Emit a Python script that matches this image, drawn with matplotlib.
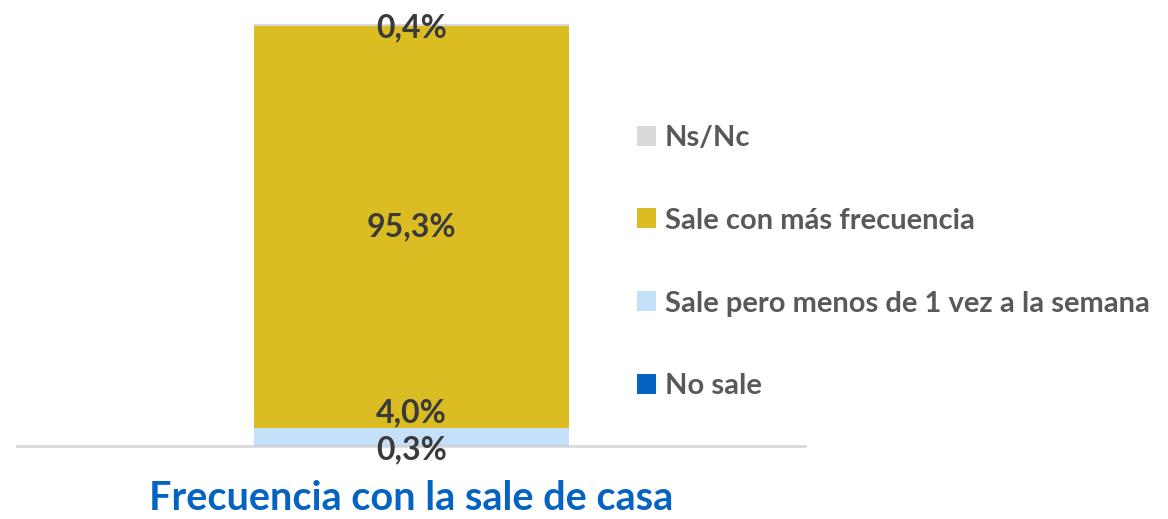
import matplotlib
matplotlib.use("Agg")
import matplotlib.pyplot as plt
from matplotlib.patches import Patch

categories = ["No sale", "Sale pero menos de 1 vez a la semana",
              "Sale con más frecuencia", "Ns/Nc"]
values = [0.3, 4.0, 95.3, 0.4]
colors = ["#0563C1", "#C5E0F9", "#DBBD23", "#D9D9D9"]
value_labels = ["0,3%", "4,0%", "95,3%", "0,4%"]
title = "Frecuencia con la sale de casa"

plt.rcParams["font.family"] = ["Lato", "DejaVu Sans"]

fig = plt.figure(figsize=(11.68, 5.19), dpi=100)
ax = fig.add_axes([0.0146, 0.1407, 0.675, 0.813])

bottom = 0.0
for val, col in zip(values, colors):
    ax.bar(0, val, width=0.4, bottom=bottom, color=col, edgecolor="none")
    bottom += val

ax.set_xlim(-0.5, 0.5)
ax.set_ylim(0, 100)
for s in ["top", "right", "left"]:
    ax.spines[s].set_visible(False)
ax.spines["bottom"].set_color("#D9D9D9")
ax.spines["bottom"].set_linewidth(2)
ax.set_xticks([])
ax.set_yticks([])

# data labels: offsets (points) keep thin segments readable
label_color = "#3A3A3A"
offsets = [-3, 17, 0, -2]
cum = 0.0
for val, lab, off in zip(values, value_labels, offsets):
    center = cum + val / 2
    ax.annotate(lab, xy=(0, center), xytext=(0, off), textcoords="offset points",
                ha="center", va="center", fontsize=23, fontweight="bold",
                color=label_color, annotation_clip=False)
    cum += val

# legend in reverse stacking order
handles = [Patch(facecolor=c, edgecolor="none") for c in colors][::-1]
leg = fig.legend(handles, categories[::-1], loc="upper left",
                 bbox_to_anchor=(0.535, 0.782), frameon=False,
                 fontsize=21, labelspacing=1.95, handlelength=0.68,
                 handleheight=0.68, handletextpad=0.28, borderaxespad=0)
for t in leg.get_texts():
    t.set_color("#595959")
    t.set_fontweight("bold")

fig.text(0.352, 0.04, title, ha="center", va="center", fontsize=28.5,
         fontweight="bold", color="#0563C1")

fig.savefig("out.png", dpi=100)
